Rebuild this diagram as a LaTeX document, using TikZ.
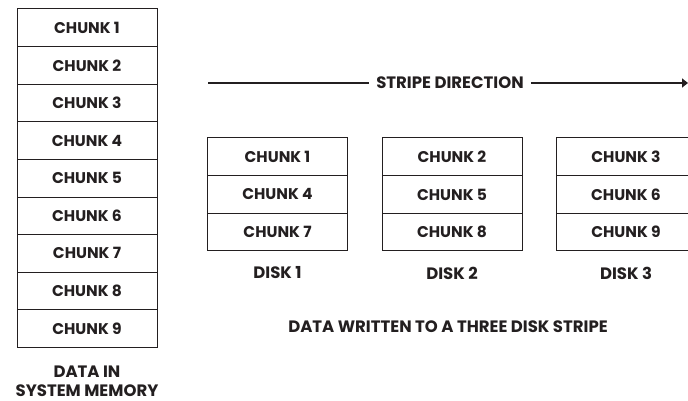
\documentclass[tikz,border=0pt]{standalone}
\usepackage{fontspec}
\setmainfont{Poppins}
\usepackage{tikz}
\usetikzlibrary{calc,arrows.meta}
\definecolor{ink}{HTML}{231F20}

\begin{document}
\begin{tikzpicture}[x=1pt,y=-1pt,
	cell/.style={draw=ink,line width=1pt,minimum width=140pt,minimum height=37.6pt,inner sep=0pt,text=ink,font=\bfseries\fontsize{15.5}{17}\selectfont},
	caption/.style={text=ink,align=center,inner sep=0pt,font=\bfseries\fontsize{16.5}{19}\selectfont}]
	\useasboundingbox (0,0) rectangle (688,401);
	%draw memory column
	\foreach \i in {1,...,9}{
		\node[cell] (m\i) at (87,{27.8+(\i-1)*37.6}) {CHUNK \i};
	}
	\node[caption] (mem) at (87,381) {DATA IN\\SYSTEM MEMORY};
	%draw disks
	\foreach \d/\x in {1/277.5,2/452,3/626}{
		\foreach \r in {0,1,2}{
			\pgfmathtruncatemacro{\c}{\d+3*\r}
			\node[cell] (d\d r\r) at (\x,{156.8+\r*37.6}) {CHUNK \c};
		}
		\node[caption] (disk\d) at (\x,273) {DISK \d};
	}
	\node[caption] (stripe) at (448,327) {DATA WRITTEN TO A THREE DISK STRIPE};
	%draw stripe direction
	\node[caption,inner xsep=7pt] (dir) at (450,83) {STRIPE DIRECTION};
	\coordinate (start) at (208,83);
	\coordinate (end) at (688,83);
	\draw[ink,line width=2.5pt] (start) -- (dir.west);
	\draw[ink,line width=2.5pt,-{Triangle[length=6pt,width=9pt]}] (dir.east) -- (end);
\end{tikzpicture}
\end{document}
